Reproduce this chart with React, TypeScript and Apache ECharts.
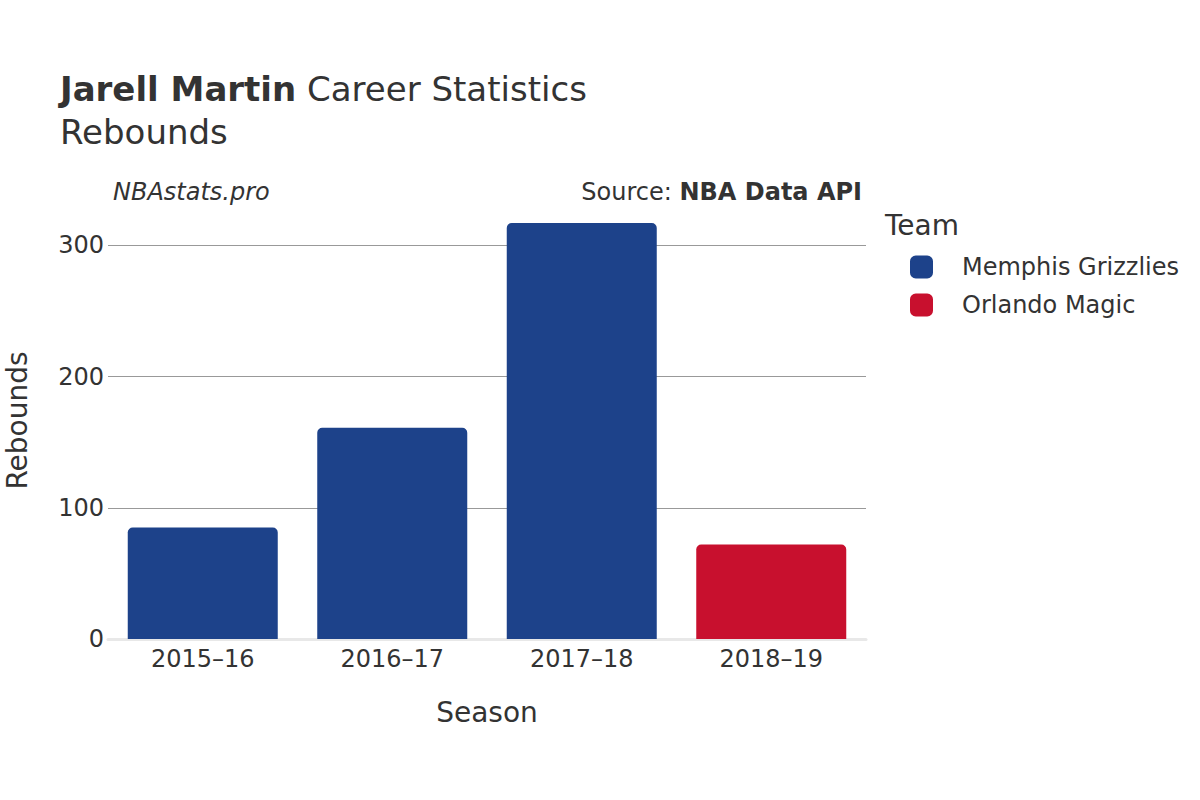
import React, { useEffect, useRef } from "react";
import * as echarts from "echarts";

const seasons = ["2015–16", "2016–17", "2017–18", "2018–19"];
const memphis = [85, 161, 317, "-"];
const orlando = ["-", "-", "-", 72];
const yTicks = [0, 100, 200, 300];

const FONT = "DejaVu Sans";

export default function App() {
  const ref = useRef<HTMLDivElement>(null);
  useEffect(() => {
    const chart = echarts.init(ref.current!, null, { renderer: "svg" });
    chart.setOption({
      animation: false,
      backgroundColor: "#ffffff",
      textStyle: { fontFamily: FONT },
      title: {
        left: 55,
        top: 62,
        text: "{b|Jarell Martin} {n|Career Statistics}\n{n|Rebounds}",
        textStyle: {
          fontWeight: "normal",
          fontSize: 34,
          rich: {
            b: { fontFamily: FONT, fontSize: 34, fontWeight: "bold", color: "#333", lineHeight: 43 },
            n: { fontFamily: FONT, fontSize: 34, fontWeight: "normal", color: "#333", lineHeight: 43 },
          },
        },
      },
      legend: {
        orient: "vertical",
        left: 910,
        top: 255,
        padding: 0,
        itemWidth: 23,
        itemHeight: 23,
        itemGap: 14,
        icon: "roundRect",
        textStyle: { fontFamily: FONT, fontSize: 24, color: "#333", padding: [0, 0, 0, 24] },
        data: ["Memphis Grizzlies", "Orlando Magic"],
      },
      graphic: [
        { type: "text", left: 885, top: 211, style: { text: "Team", font: `28px "${FONT}"`, fill: "#333" } },
        { type: "text", left: 113, top: 180, style: { text: "NBAstats.pro", font: `italic 24px "${FONT}"`, fill: "#333" } },
        {
          type: "text",
          right: 338,
          top: 180,
          style: {
            text: "{n|Source: }{b|NBA Data API}",
            rich: {
              n: { fontFamily: FONT, fontSize: 24, fill: "#333", color: "#333" },
              b: { fontFamily: FONT, fontSize: 24, fontWeight: "bold", fill: "#333", color: "#333" },
            },
          },
        },
      ],
      grid: { left: 108, right: 334, top: 202, bottom: 161, outerBoundsMode: "none", containLabel: false },
      xAxis: {
        type: "category",
        data: seasons,
        name: "Season",
        nameLocation: "middle",
        nameGap: 59,
        nameTextStyle: { fontFamily: FONT, fontSize: 28, color: "#333" },
        axisLine: { show: true, lineStyle: { color: "#e8e8e8", width: 3 } },
        axisTick: { show: false },
        axisLabel: { fontFamily: FONT, fontSize: 24, color: "#333", margin: 8 },
      },
      yAxis: {
        type: "value",
        min: 0,
        max: 333,
        interval: 100,
        name: "Rebounds",
        nameLocation: "middle",
        nameGap: 77,
        nameTextStyle: { fontFamily: FONT, fontSize: 28, color: "#333" },
        axisLine: { show: false },
        axisTick: { show: false },
        axisLabel: {
          fontFamily: FONT,
          fontSize: 24,
          color: "#333",
          margin: 4,
          formatter: (v: number) => (yTicks.includes(v) ? String(v) : ""),
        },
        splitLine: { showMaxLine: false, lineStyle: { color: "#999", width: 1 } },
      },
      series: [
        {
          name: "Memphis Grizzlies",
          type: "bar",
          stack: "s",
          data: memphis,
          barWidth: 150,
          itemStyle: { color: "#1d428a", borderRadius: [5, 5, 0, 0] },
        },
        {
          name: "Orlando Magic",
          type: "bar",
          stack: "s",
          data: orlando,
          barWidth: 150,
          itemStyle: { color: "#c8102e", borderRadius: [5, 5, 0, 0] },
        },
      ],
    });
    return () => chart.dispose();
  }, []);
  return <div ref={ref} style={{ width: 1200, height: 800, position: "absolute", left: 0, top: 0 }} />;
}
